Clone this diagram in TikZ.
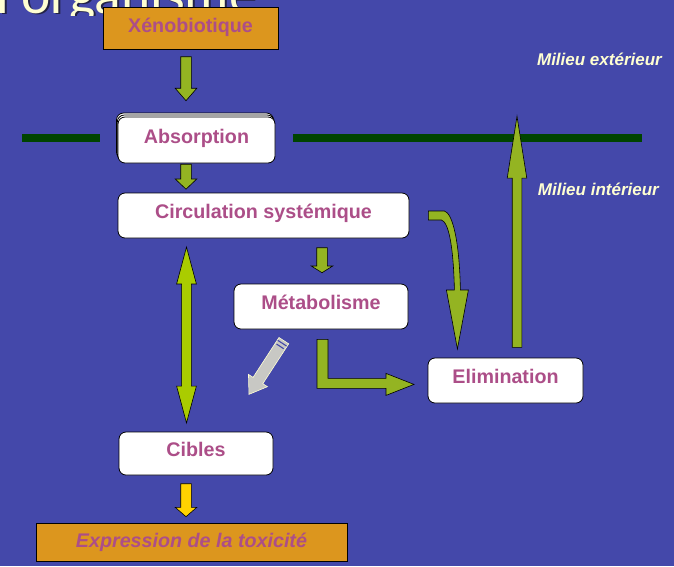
\documentclass[tikz,border=0pt]{standalone}
\usepackage{fontspec}
\setmainfont{Liberation Sans}
\newfontfamily\titlefont{Carlito}
\usepackage{xcolor}
\usetikzlibrary{positioning, calc, shapes, shadows}

\definecolor{slidebg}{RGB}{68,72,170}
\definecolor{boxorange}{RGB}{220,150,30}
\definecolor{labelpink}{RGB}{172,78,136}
\definecolor{flowgreen}{RGB}{148,180,34}
\definecolor{bidirgreen}{RGB}{170,204,0}
\definecolor{toxyellow}{RGB}{255,210,0}
\definecolor{membranegreen}{RGB}{0,68,0}
\definecolor{cream}{RGB}{255,255,210}
\definecolor{metabgrey}{RGB}{200,200,196}
\definecolor{titleshade}{RGB}{35,35,70}

\begin{document}
\begin{tikzpicture}[x=1pt, y=-1pt]
  \tikzstyle{stage}=[rounded corners=7pt, draw=black, line width=0.8pt, fill=white,
  text=labelpink, font=\fontsize{19.7}{22}\selectfont\bfseries,
  text height=15pt, text depth=9pt, inner sep=0pt]
  \tikzstyle{endpoint}=[draw=black, line width=0.8pt, fill=boxorange, text=labelpink,
  font=\fontsize{19.7}{22}\selectfont\bfseries, inner sep=0pt]
  \tikzstyle{flow}=[single arrow, draw=black, line width=0.6pt, fill=flowgreen,
  inner xsep=0pt, inner ysep=5pt, minimum width=21pt, single arrow head extend=5.5pt, anchor=tail]
  \tikzstyle{bidir}=[double arrow, draw=black, line width=0.6pt, fill=bidirgreen,
  inner xsep=0pt, inner ysep=4.6pt, minimum width=19pt, double arrow head extend=5pt,
  double arrow tip angle=30]
  \tikzstyle{greyflow}=[single arrow, draw=cream, line width=0.6pt, fill=metabgrey,
  inner xsep=0pt, inner ysep=5.5pt, minimum width=22pt, single arrow head extend=5.5pt,
  single arrow tip angle=69, anchor=tail]
  \tikzstyle{bentflow}=[draw=black, line width=0.6pt, fill=flowgreen, line join=miter]
  \tikzstyle{membrane}=[line width=8pt, draw=membranegreen]
  \tikzstyle{medium}=[text=cream, font=\fontsize{17}{20}\selectfont\bfseries\itshape,
  anchor=base east, inner sep=0pt]

  \fill[slidebg] (0,0) rectangle (674,566);
  \useasboundingbox (0,0) rectangle (674,566);

  \begin{scope}
    \clip (0,0) rectangle (674,15);
    \node (titleshadow) [text=titleshade, font=\titlefont\fontsize{55.5}{60}\selectfont,
    anchor=base east, inner sep=0pt] at (258.5,14.5) {l'organisme};
    \node (title) [text=cream, font=\titlefont\fontsize{55.5}{60}\selectfont,
    anchor=base east, inner sep=0pt] at (257,13) {l'organisme};
  \end{scope}

  \coordinate (memleft) at (22,138);
  \coordinate (memright) at (642,138);

  \node (xeno) [endpoint, minimum width=175pt, minimum height=42pt,
  text height=15pt, text depth=7pt] at (190.5,28) {Xénobiotique};
  \node (absorp) [stage, minimum width=157pt, minimum height=46pt,
  copy shadow={shadow xshift=-1.5pt, shadow yshift=4pt},
  copy shadow={shadow xshift=-0.7pt, shadow yshift=2pt}] at (196.5,140) {Absorption};
  \node (circ) [stage, minimum width=291pt, minimum height=45pt] at (263.5,215.5) {Circulation systémique};
  \node (metab) [stage, minimum width=174pt, minimum height=45pt] at (321,306.5) {Métabolisme};
  \node (elim) [stage, minimum width=155pt, minimum height=45pt] at (505.5,380.5) {Elimination};
  \node (cibles) [stage, minimum width=154pt, minimum height=43pt] at (196,453.5) {Cibles};
  \node (expr) [endpoint, minimum width=311pt, minimum height=38pt,
  font=\fontsize{19.7}{22}\selectfont\bfseries\itshape,
  text height=15pt, text depth=4pt] at (191.5,542) {Expression de la toxicité};

  \draw[membrane] (memleft) -- ($(memleft -| absorp.west)+(-18,0)$);
  \draw[membrane] ($(memright -| absorp.east)+(18,0)$) -- (memright);

  \node (xenoarrow) [flow, rotate=-90, minimum height=44pt, single arrow tip angle=82]
  at ([shift={(-4.5,7)}]xeno.south) {};
  \node (absorparrow) [flow, rotate=-90, minimum height=25pt, single arrow tip angle=93]
  at ([shift={(-10.5,0.5)}]absorp.south) {};
  \node (metabarrow) [flow, rotate=-90, minimum height=25pt, single arrow tip angle=116]
  at ($(metab.north |- circ.south)+(1,9)$) {};
  \node (ciblesarrow) [flow, rotate=-90, minimum height=33pt, single arrow tip angle=98,
  fill=toxyellow] at ([shift={(-10,8)}]cibles.south) {};
  \node (exitarrow) [flow, rotate=90, minimum height=231pt, minimum width=19pt,
  inner ysep=4.5pt, single arrow head extend=5pt, single arrow tip angle=18]
  at ([shift={(11.5,-10)}]elim.north) {};
  \node (bloodarrow) [bidir, rotate=90, minimum height=176pt]
  at ([xshift=-9.5pt]$(circ.south -| cibles.north)!.5!(cibles.north)$) {};

  \draw[bentflow, shift={(circ.east)}] (19,-4.5) -- (35,-4.5)
  .. controls (43,-2.5) and (50,24.5) .. (51,74.5) -- (59,74.5) -- (48,133.5)
  -- (37,74.5) -- (45,74.5) .. controls (44,29.5) and (39,6.5) .. (32,4.5)
  -- (19,4.5) -- cycle;
  \draw[bentflow, shift={(metab.south)}] (-4,10) -- (7,10) -- (7,49) -- (65,49)
  -- (65,44) -- (93,55) -- (65,66) -- (65,59) -- (-4,59) -- cycle;

  \node (toxarrow) [greyflow, rotate=-123, minimum height=64pt]
  at ([shift={(-37,11)}]metab.south) {};
  \foreach \t in {0.07,0.15}
    \draw[slidebg, line width=1.1pt] ($(toxarrow.after tail)!\t!(toxarrow.after head)$)
    -- ($(toxarrow.before tail)!\t!(toxarrow.before head)$);

  \node (outside) [medium] at (662,65) {Milieu extérieur};
  \node (inside) [medium] at (659,195) {Milieu intérieur};
\end{tikzpicture}
\end{document}
